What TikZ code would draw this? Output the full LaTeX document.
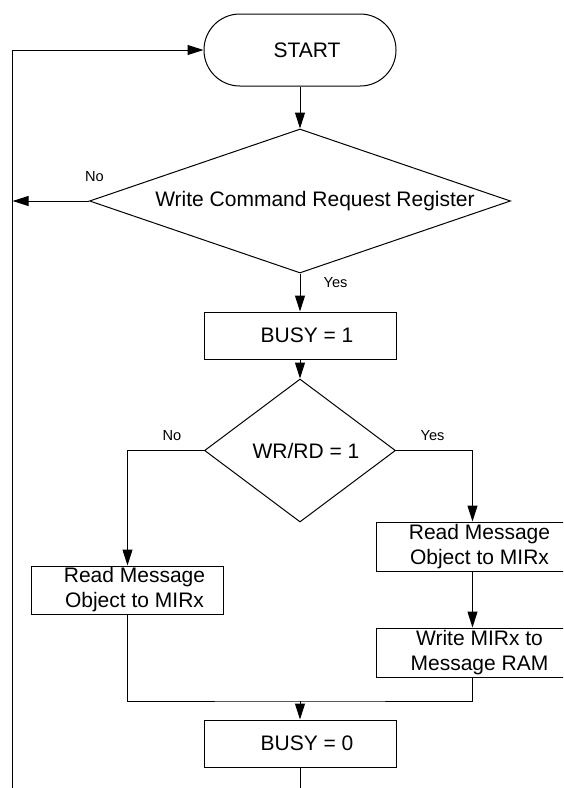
\documentclass[tikz,border=0pt]{standalone}
\usepackage{fontspec}
\setmainfont{Liberation Sans}
\usetikzlibrary{shapes.geometric,arrows.meta}
\tikzset{
  box/.style={draw,rectangle,inner sep=0pt,minimum width=96pt,minimum height=23.5pt,align=center,font=\fontsize{10.5}{12.5}\selectfont},
  term/.style={box,rounded corners=17.9pt,minimum height=36pt},
  dec/.style={draw,diamond,inner sep=0pt,align=center,font=\fontsize{10.5}{12.5}\selectfont},
  lbl/.style={font=\fontsize{7.3}{8.5}\selectfont},
  flow/.style={-{Triangle[length=8pt,width=5pt]}},
}
\newcommand{\ind}{\hspace*{7pt}}
\begin{document}
\begin{tikzpicture}[x=0.5pt,y=-0.5pt,line width=0.5pt]
\useasboundingbox (0,0) rectangle (563,788);
\clip (0,0) rectangle (563,788);
% steps
\node[term] (start) at (300,50) {\ind START};
\node[dec,minimum width=210.5pt,minimum height=72pt,shape aspect=2.9] (wcr) at (300,201) {\hspace*{15pt}Write Command Request Register};
\node[box] (busy1) at (300,335.5) {\ind BUSY = 1};
\node[dec,minimum width=95.5pt,minimum height=71.5pt,shape aspect=1.34] (wrrd) at (300,450.5) {\hspace*{6pt}WR/RD = 1};
\node[box,minimum height=24pt] (rdl) at (127.5,590) {\ind Read Message\\\ind Object to MIRx};
\node[box,minimum height=24.5pt] (rdr) at (472.5,546.5) {\ind Read Message\\\ind Object to MIRx};
\node[box,minimum height=24.5pt] (wrr) at (472.5,652.5) {\ind Write MIRx to\\\ind Message RAM};
\node[box] (busy0) at (300,743.5) {\ind BUSY = 0};
\coordinate (loop) at (12.6,800);
\coordinate (merge) at (300,701);
% branch labels
\node[lbl] (no1) at (94.5,177) {No};
\node[lbl] (yes1) at (335.5,283) {Yes};
\node[lbl] (no2) at (172,436) {No};
\node[lbl] (yes2) at (432.5,436) {Yes};
% connectors
\draw[flow] (start) -- (wcr);
\draw[flow] (wcr) -- (busy1);
\draw[flow] (busy1) -- (wrrd);
\draw[flow] (wcr.west) -- (wcr.west -| loop);
\draw[flow] (wrrd.west) -| (rdl);
\draw[flow] (wrrd.east) -| (rdr);
\draw[flow] (rdr) -- (wrr);
\draw (rdl) |- (merge) -| (wrr);
\draw[flow] (merge) -- (busy0);
\draw[flow] (busy0) |- (loop) |- (start);
\end{tikzpicture}
\end{document}
